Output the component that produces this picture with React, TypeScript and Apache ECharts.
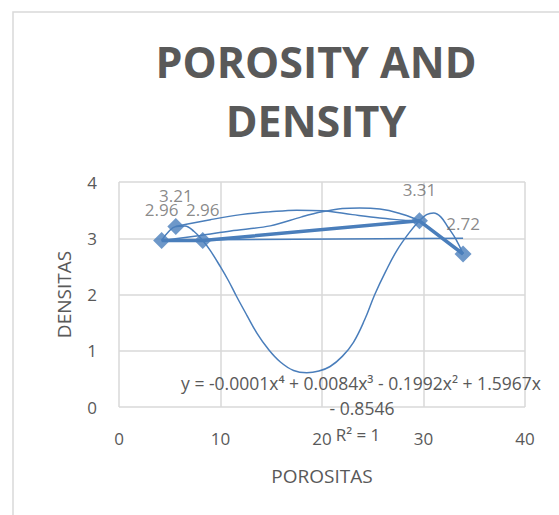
import React, { useEffect, useRef } from "react";
import * as echarts from "echarts";

// Observed points (porositas, densitas)
const porositas = [4.2, 5.6, 8.25, 29.6, 33.9];
const densitas = [2.96, 3.21, 2.96, 3.31, 2.72];

// Polynomial trendline
const trendX = [4.2, 4.9, 5.6, 6.5, 7.4, 8.25, 9.0, 10, 10.8, 11.6, 12.6, 13.6, 14.7, 15.9, 17.2, 18.5, 19.7, 20.8, 22.0, 23.1, 24.2, 25.2, 26.3, 27.4, 28.6, 29.6, 30.3, 31.0, 31.7, 32.4, 33.2, 33.9];
const trendY = [2.96, 3.12, 3.21, 3.22, 3.12, 2.96, 2.78, 2.49, 2.24, 1.96, 1.63, 1.31, 1.03, 0.80, 0.65, 0.61, 0.64, 0.72, 0.9, 1.15, 1.55, 2.0, 2.42, 2.79, 3.1, 3.31, 3.42, 3.45, 3.38, 3.2, 2.98, 2.72];

// Smoothed connecting curves
const arcAX = [5.6, 9, 12, 14.9, 17.5, 20, 23, 25.7, 28, 29.6, 31.5, 33.9];
const arcAY = [3.21, 3.33, 3.42, 3.47, 3.5, 3.49, 3.42, 3.36, 3.32, 3.29, 3.05, 2.72];
const arcBX = [4.2, 8, 11, 14.9, 18, 20, 22, 23.7, 25.7, 27.5, 29.6, 31.5, 33.9];
const arcBY = [2.96, 3.05, 3.13, 3.22, 3.38, 3.47, 3.53, 3.54, 3.52, 3.45, 3.31, 3.05, 2.72];
const flatX = [4.2, 33.9];
const flatY = [2.97, 3.0];
const thickX = [4.2, 8.25, 29.6, 33.9];
const thickY = [2.96, 2.96, 3.31, 2.72];

const xTicks = [0, 10, 20, 30, 40];
const yTicks = [0, 1, 2, 3, 4];

const BLUE = "#4a7ebb";
const TXT = "#595959";
const GRID = "#d9d9d9";
const FONT = "'Open Sans', 'Liberation Sans', sans-serif";

const zip = (xs: number[], ys: number[]) => xs.map((x, i) => [x, ys[i]]);

export default function App() {
  const ref = useRef<HTMLDivElement>(null);
  useEffect(() => {
    if (!ref.current) return;
    const chart = echarts.init(ref.current, null, { renderer: "svg" });
    const thinLine = (name: string, data: number[][], width = 1.5, smooth: any = 0.35) => ({
      name,
      type: "line",
      data,
      smooth,
      symbol: "none",
      lineStyle: { color: BLUE, width },
      z: 2,
    });
    chart.setOption({
      animation: false,
      backgroundColor: "#ffffff",
      title: {
        text: "POROSITY AND\nDENSITY",
        left: 311,
        top: 27,
        textAlign: "center",
        textStyle: {
          fontFamily: FONT,
          fontWeight: "bold",
          fontSize: 43,
          lineHeight: 59,
          color: TXT,
        },
      },
      grid: { left: 119, right: 34, top: 182, bottom: 108 },
      xAxis: {
        type: "value",
        min: xTicks[0],
        max: xTicks[xTicks.length - 1],
        interval: 10,
        name: "POROSITAS",
        nameLocation: "middle",
        nameGap: 59,
        nameTextStyle: { color: TXT, fontFamily: FONT, fontSize: 19 },
        axisLine: { show: false },
        axisTick: { show: false },
        axisLabel: { color: TXT, fontFamily: FONT, fontSize: 17, margin: 23 },
        splitLine: { show: true, lineStyle: { color: GRID, width: 1.5 } },
      },
      yAxis: {
        type: "value",
        min: yTicks[0],
        max: yTicks[yTicks.length - 1],
        interval: 1,
        name: "DENSITAS",
        nameLocation: "middle",
        nameGap: 46,
        nameTextStyle: { color: TXT, fontFamily: FONT, fontSize: 19 },
        axisLine: { show: false },
        axisTick: { show: false },
        axisLabel: { color: TXT, fontFamily: FONT, fontSize: 17, margin: 22 },
        splitLine: { show: true, lineStyle: { color: GRID, width: 1.5 } },
      },
      series: [
        thinLine("trendline", zip(trendX, trendY), 1.5, 0.4),
        thinLine("curveA", zip(arcAX, arcAY)),
        thinLine("curveB", zip(arcBX, arcBY)),
        thinLine("flat", zip(flatX, flatY)),
        thinLine("thick", zip(thickX, thickY), 3.5, false),
        {
          name: "densitas",
          type: "scatter",
          data: zip(porositas, densitas),
          symbol: "diamond",
          symbolSize: 17,
          itemStyle: { color: BLUE },
          z: 5,
          label: {
            show: true,
            position: "top",
            distance: 14,
            color: "#6b6b6b",
            fontFamily: FONT,
            fontSize: 17,
            formatter: (p: any) => p.value[1].toFixed(2),
          },
        },
      ],
      graphic: [
        {
          type: "rect",
          silent: true,
          shape: { x: 13, y: 12, width: 640, height: 580 },
          style: { fill: "none", stroke: GRID, lineWidth: 1.5 },
          z: -1,
        },
        {
          type: "text",
          x: 361,
          y: 383,
          style: {
            text: "y = -0.0001x\u2074 + 0.0084x\u00B3 - 0.1992x\u00B2 + 1.5967x",
            fill: TXT,
            font: `17.5px ${FONT}`,
            align: "center",
            verticalAlign: "middle",
          },
          z: 10,
        },
        {
          type: "text",
          x: 362,
          y: 408,
          style: {
            text: "- 0.8546",
            fill: TXT,
            font: `17.5px ${FONT}`,
            align: "center",
            verticalAlign: "middle",
          },
          z: 10,
        },
        {
          type: "text",
          x: 358,
          y: 434,
          style: {
            text: "R\u00B2 = 1",
            fill: TXT,
            font: `17px ${FONT}`,
            align: "center",
            verticalAlign: "middle",
          },
          z: 10,
        },
      ],
    });
    return () => chart.dispose();
  }, []);
  return (
    <div
      ref={ref}
      style={{ position: "fixed", left: 0, top: 0, width: 559, height: 515 }}
    />
  );
}
